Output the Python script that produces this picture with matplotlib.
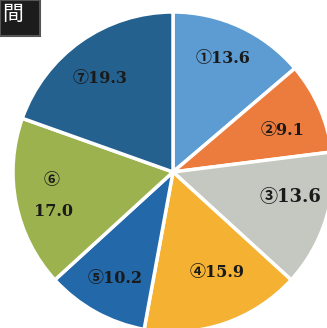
import matplotlib.pyplot as plt
from matplotlib.patches import Rectangle

# データ（%）
values = [13.6, 9.1, 13.6, 15.9, 10.2, 17.0, 19.3]
marks = ['①', '②', '③', '④', '⑤', '⑥', '⑦']
colors = ['#5c9cd2', '#ec7c3e', '#c5c7c1', '#f5b132', '#2368a8', '#9cb24e', '#24618f']

W, H = 327, 328
fig = plt.figure(figsize=(W / 100, H / 100), dpi=100)
ax = fig.add_axes([0, 0, 1, 1])

# 円の中心と半径（ピクセル、上からの座標）
cx, cy, r = 173, 172, 160
ax.pie(values, startangle=90, counterclock=False, colors=colors,
       radius=r, center=(cx, H - cy), frame=False,
       wedgeprops=dict(edgecolor='white', linewidth=2.5))
ax.set_xlim(0, W)
ax.set_ylim(0, H)
ax.set_aspect('auto')
ax.axis('off')

fam = ['DejaVu Serif', 'Noto Sans CJK JP']
txt = dict(family=fam, color='#1a1a1a', ha='center', va='center', fontweight='bold')

# ラベル位置（画像座標）
label_pos = [(223, 58), (283, 130), (290, 197), (217, 272), (115, 279), None, (100, 78)]
for i, (m, v) in enumerate(zip(marks, values)):
    if label_pos[i] is None:
        continue
    x, y = label_pos[i]
    size = 13 if i == 2 else 11.5
    ax.text(x, H - y, f'{m}{v:.1f}', fontsize=size, **txt)

ax.text(52, H - 181, marks[5], fontsize=11.5, **txt)
ax.text(53, H - 211, f'{values[5]:.1f}', fontsize=11.5, **txt)

# 左上の見出しボックス
ax.add_patch(Rectangle((0, H - 36), 40, 36, facecolor='#1c1c1c', edgecolor='#555555', lw=1.5))
ax.text(2, H - 14, '間', fontsize=15, color='white', ha='left', va='center',
        family=['Noto Sans CJK JP', 'DejaVu Sans'])

fig.savefig('out.png', dpi=100)
